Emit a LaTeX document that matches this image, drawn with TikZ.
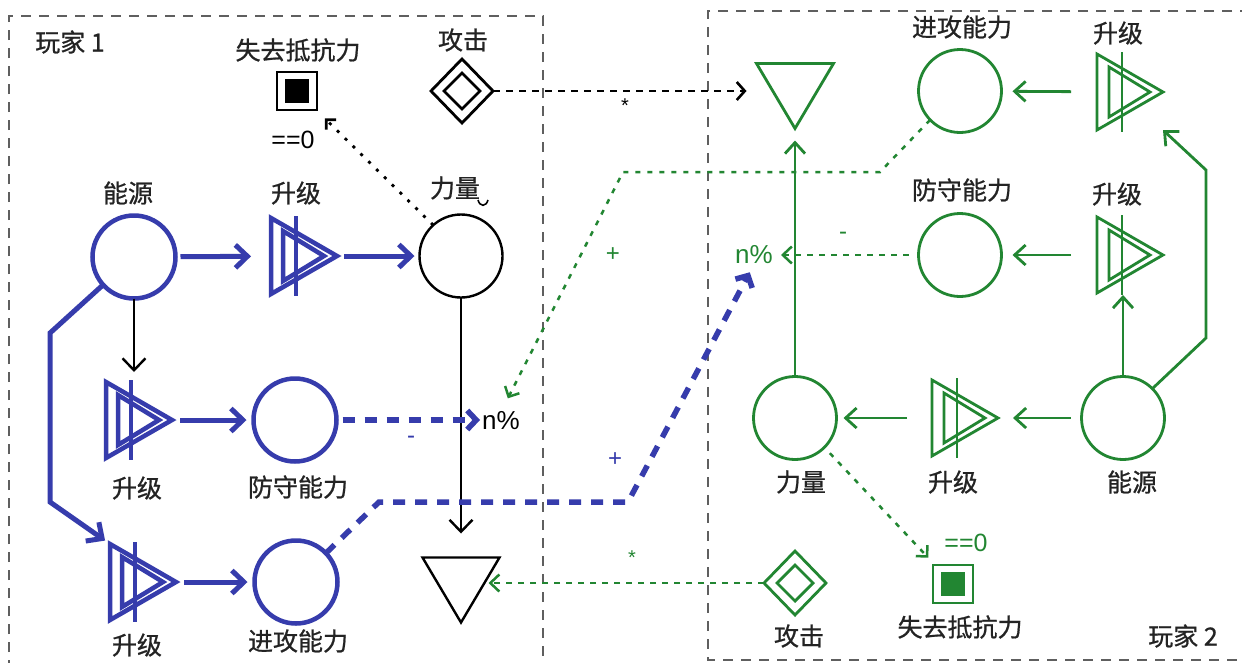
\documentclass[tikz,border=0pt]{standalone}
\usepackage{fontspec}
\setmainfont{Liberation Sans}
\newfontfamily\cjk[FakeBold=0.8]{Noto Sans CJK SC}
\usetikzlibrary{arrows.meta,shapes.geometric,calc}
\definecolor{pblue}{RGB}{54,60,172}
\definecolor{pgreen}{RGB}{34,134,50}
\definecolor{txt}{RGB}{35,35,35}
\definecolor{boxgray}{RGB}{95,95,95}
\newcommand\convdraw[3]{%
  \draw[#2, line width=#3] (#1.north west) -- (#1.east) -- (#1.south west) -- cycle;
  \draw[#2, line width=#3] ($(#1.center)+(-21,-25)$) -- ($(#1.center)+(20,0)$) -- ($(#1.center)+(-21,25)$) -- cycle;
  \draw[#2, line width=#3] ($(#1.center)+(-8,-40)$) -- ($(#1.center)+(-8,40)$);
}
\newcommand\draindraw[3]{%
  \draw[#2, line width=#3] (#1.north west) -- (#1.north east) -- (#1.south) -- cycle;
}
\newcommand\srcdraw[2]{%
  \draw[#2, line width=2.8pt] ($(#1.center)+(-18,0)$) -- ($(#1.center)+(0,-18)$) -- ($(#1.center)+(18,0)$) -- ($(#1.center)+(0,18)$) -- cycle;
}
\newcommand\stopdraw[2]{%
  \fill[#2] ($(#1.center)+(-12,-12)$) rectangle ($(#1.center)+(12,12)$);
}
\begin{document}
\begin{tikzpicture}[x=1pt,y=-1pt, line join=miter,
  lbl/.style={font=\cjk\fontsize{25}{25}\selectfont, text=txt, inner sep=0pt},
  sym/.style={font=\fontsize{24}{24}\selectfont, inner sep=0pt},
  pct/.style={font=\fontsize{26}{26}\selectfont, inner sep=0pt},
  pool/.style={circle, draw, minimum size=83pt, inner sep=0pt, outer sep=0pt},
  convbox/.style={rectangle, minimum width=66pt, minimum height=76pt, inner sep=0pt, outer sep=0pt},
  drainbox/.style={rectangle, minimum width=77pt, minimum height=65pt, inner sep=0pt, outer sep=0pt},
  endbox/.style={rectangle, draw, line width=2.8pt, minimum width=40pt, minimum height=38pt, inner sep=0pt, outer sep=0pt},
  srcbox/.style={diamond, draw, line width=2.8pt, minimum width=62pt, minimum height=64pt, inner sep=0pt, outer sep=0pt},
  zone/.style={draw=boxgray, line width=1.3pt, dash pattern=on 10pt off 8pt},
  bluearrow/.style={draw=pblue, line width=5pt, -{Straight Barb[length=12pt,width=23pt]}},
  bluedash/.style={draw=pblue, line width=5.5pt, dash pattern=on 12pt off 10pt, -{Straight Barb[length=9pt,width=19pt]}},
  blackarrow/.style={draw=black, line width=2.4pt, -{Straight Barb[length=12pt,width=23pt]}},
  kdash/.style={draw=black, line width=2.6pt, dash pattern=on 7pt off 6pt, -{Straight Barb[length=8pt,width=18pt]}},
  kdot/.style={draw=black, line width=2.8pt, dash pattern=on 3pt off 8pt, -{Straight Barb[length=7pt,width=14pt]}},
  garrow/.style={draw=pgreen, line width=2.8pt, -{Straight Barb[length=11pt,width=20pt]}},
  gdash/.style={draw=pgreen, line width=2.5pt, dash pattern=on 6pt off 6pt, -{Straight Barb[length=9pt,width=17pt]}},
  gdot/.style={draw=pgreen, line width=2.5pt, dash pattern=on 5pt off 7pt, -{Straight Barb[length=8pt,width=16pt]}},
]
\useasboundingbox (0,0) rectangle (1242,662);
\fill[white] (0,0) rectangle (1242,662);

% zones
\draw[zone] (9,670) -- (9,16) -- (543,16) -- (543,670);
\draw[zone] (1250,11) -- (708,11) -- (708,660) -- (1250,660);
\node[lbl] (z1) at (70,42) {玩家 1};
\node[lbl] (z2) at (1183,636) {玩家 2};

% ---------------- player 1 ----------------
\node[pool, draw=pblue, line width=4.5pt] (ene1) at (134,257) {};
\node[convbox] (cA1) at (304,256) {};
\convdraw{cA1}{pblue}{4.5pt}
\node[pool, draw=black, line width=2.4pt] (pow1) at (461,256) {};
\node[endbox, draw=black] (end1) at (297,91) {};
\stopdraw{end1}{black}
\node[srcbox, draw=black] (att1) at (462,91) {};
\srcdraw{att1}{black}
\node[convbox] (cB1) at (139,420) {};
\convdraw{cB1}{pblue}{4.5pt}
\node[pool, draw=pblue, line width=4.5pt] (def1) at (295,420) {};
\node[convbox] (cC1) at (143,582) {};
\convdraw{cC1}{pblue}{4.5pt}
\node[pool, draw=pblue, line width=4.5pt] (off1) at (296,582) {};
\node[drainbox] (drn1) at (461,590) {};
\draindraw{drn1}{black}{2.4pt}
\node[pct] (npct1) at (501,421) {n\%};

\node[lbl] (l1) at (298,50) {失去抵抗力};
\node[lbl] (l2) at (463,40) {攻击};
\node[lbl] (l3) at (128,193) {能源};
\node[lbl] (l4) at (296,193) {升级};
\node[lbl] (l5) at (455,188) {力量};
\node[lbl] (l6) at (137,488) {升级};
\node[lbl] (l7) at (298,487) {防守能力};
\node[lbl] (l8) at (137,645) {升级};
\node[lbl] (l9) at (298,641) {进攻能力};
\node[pct, font=\fontsize{25}{25}\selectfont] (eq1) at (293,140) {==0};
\node[sym, text=pblue] (m1) at (411,440) {-};
\node[sym, text=black, font=\fontsize{20}{20}\selectfont] (s1) at (625,106) {*};
\node[sym, text=pblue] (p1) at (615,460) {+};
\node[sym, text=pgreen] (p2) at (613,255) {+};
\draw[black, line width=1.6pt] (478,200) .. controls (480,207) and (486,207) .. (488,200);

% ---------------- player 2 ----------------
\node[drainbox] (drn2) at (795,96) {};
\draindraw{drn2}{pgreen}{2.8pt}
\node[pool, draw=pgreen, line width=2.8pt] (aff2) at (960,91) {};
\node[convbox] (cA2) at (1130,92) {};
\convdraw{cA2}{pgreen}{2.8pt}
\node[pool, draw=pgreen, line width=2.8pt] (def2) at (960,255) {};
\node[convbox] (cB2) at (1130,255) {};
\convdraw{cB2}{pgreen}{2.8pt}
\node[pool, draw=pgreen, line width=2.8pt] (pow2) at (795,418) {};
\node[convbox] (cC2) at (965,418) {};
\convdraw{cC2}{pgreen}{2.8pt}
\node[pool, draw=pgreen, line width=2.8pt] (ene2) at (1123,418) {};
\node[srcbox, draw=pgreen] (att2) at (795,583) {};
\srcdraw{att2}{pgreen}
\node[endbox, draw=pgreen] (end2) at (953,584) {};
\stopdraw{end2}{pgreen}
\node[pct, text=pgreen] (npct2) at (754,255) {n\%};

\node[lbl] (r1) at (962,27) {进攻能力};
\node[lbl] (r2) at (1118,33) {升级};
\node[lbl] (r3) at (962,190) {防守能力};
\node[lbl] (r4) at (1117,194) {升级};
\node[lbl] (r5) at (801,482) {力量};
\node[lbl] (r6) at (953,482) {升级};
\node[lbl] (r7) at (1132,482) {能源};
\node[lbl] (r8) at (960,627) {失去抵抗力};
\node[lbl] (r9) at (799,636) {攻击};
\node[pct, text=pgreen, font=\fontsize{25}{25}\selectfont] (eq2) at (966,543) {==0};
\node[sym, text=pgreen] (m2) at (843,236) {-};
\node[sym, text=pgreen, font=\fontsize{20}{20}\selectfont] (s2) at (632,558) {*};

% waypoints and free ends
\coordinate (w1) at (50,333);
\coordinate (w2) at (50,502);
\coordinate (b1) at (379,502);
\coordinate (b2) at (628,502);
\coordinate (g3) at (880,172);
\coordinate (g4) at (623,172);
\coordinate (g1) at (1206,338);
\coordinate (g2) at (1206,170);
\coordinate (n2tip) at (781,255);

% ---------------- connectors P1 ----------------
\draw[bluearrow, shorten <=5pt, shorten >=20pt] (ene1) -- (cA1);
\draw[bluearrow, shorten <=7pt, shorten >=5pt] (cA1) -- (pow1);
\draw[blackarrow, shorten >=10pt] (ene1.south) -- (ene1.south |- cB1.north);
\draw[bluearrow, shorten >=6pt] (ene1.222) -- (w1) -- (w2) -- (cC1.north west);
\draw[bluearrow, shorten <=8pt, shorten >=7pt] (cB1) -- (def1);
\draw[bluearrow, shorten <=8pt, shorten >=7pt] (cC1) -- (off1);
\draw[blackarrow, shorten >=24pt] (pow1) -- (drn1);
\draw[bluedash, shorten <=6pt, shorten >=2pt] (def1.east) -- (def1.east -| npct1.west);
\draw[bluedash, shorten >=9pt] (off1.44) -- (b1) -- (b2) -- (npct2.south);
\draw[kdot, shorten >=12pt] (pow1.132) -- (end1);
\draw[kdash, shorten >=10pt] (att1.east) -- (att1.east -| drn2.west);

% ---------------- connectors P2 ----------------
\draw[garrow, shorten >=12pt] (pow2) -- (drn2);
\draw[garrow, shorten <=11pt, shorten >=15pt] (ene2) -- (cC2);
\draw[garrow, shorten <=25pt, shorten >=7pt] (cC2) -- (pow2);
\draw[garrow, shorten <=26pt, shorten >=11pt] (cA2) -- (aff2);
\draw[garrow, shorten <=26pt, shorten >=11pt] (cB2) -- (def2);
\draw[garrow, shorten >=2pt] (ene2.north) -- (ene2.north |- cB2.south);
\draw[garrow] (ene2.45) -- (g1) -- (g2) -- (cA2.south east);
\draw[gdash, shorten <=10pt] (def2.west) -- (n2tip);
\draw[gdot, shorten >=15pt] (aff2.224) -- (g3) -- (g4) -- (npct1.north);
\draw[gdot, shorten <=8pt, shorten >=10pt] (pow2.-45) -- (end2);
\draw[gdash, shorten >=-11pt] (att2.west) -- (att2.west -| drn1.east);
\end{tikzpicture}
\end{document}
